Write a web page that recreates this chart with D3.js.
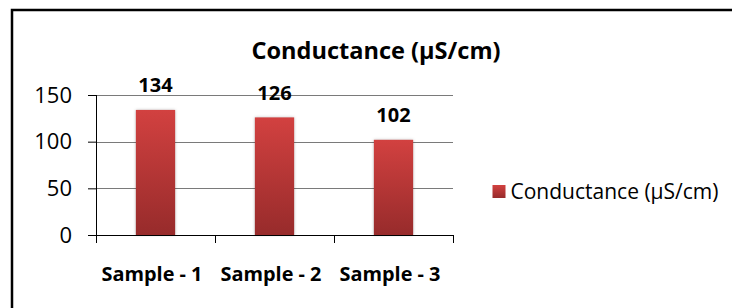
<!DOCTYPE html>
<html>
<head>
<meta charset="utf-8">
<script src="https://cdn.jsdelivr.net/npm/d3@7"></script>
<style>
  body { margin: 0; background: #fff; }
  svg { display: block; }
</style>
</head>
<body>
<svg id="chart"></svg>
<script>
// data
var categories = ["Sample - 1", "Sample - 2", "Sample - 3"];
var values = [134, 126, 102];
var yTicks = [0, 50, 100, 150];
var seriesName = "Conductance (\u00B5S/cm)";
var chartTitle = "Conductance (\u00B5S/cm)";

var size = { width: 732, height: 308 };
var margin = { top: 95, right: 279, bottom: 73, left: 96 };
var width = size.width - margin.left - margin.right;
var height = size.height - margin.top - margin.bottom;

var font = "'Open Sans', sans-serif";

var svg = d3.select("#chart")
  .attr("width", size.width)
  .attr("height", size.height);

var defs = svg.append("defs");
var grad = defs.append("linearGradient")
  .attr("id", "barGrad")
  .attr("x1", 0).attr("y1", 0).attr("x2", 0).attr("y2", 1);
grad.append("stop").attr("offset", "0%").attr("stop-color", "#d24140");
grad.append("stop").attr("offset", "100%").attr("stop-color", "#972b2b");

// outer frame (runs off the right and bottom)
svg.append("path")
  .attr("d", "M12,320 L12,10 L740,10")
  .attr("fill", "none")
  .attr("stroke", "#000")
  .attr("stroke-width", 2.5);

var g = svg.append("g")
  .attr("transform", "translate(" + margin.left + "," + margin.top + ")");

var x = d3.scaleBand()
  .domain(categories)
  .range([0, width])
  .paddingInner(0.67)
  .paddingOuter(0.335);

var y = d3.scaleLinear()
  .domain([0, 150])
  .range([height, 0]);

// gridlines
g.selectAll(".grid")
  .data(yTicks.filter(function(d){ return d > 0; }))
  .enter().append("line")
  .attr("x1", 0).attr("x2", width)
  .attr("y1", function(d){ return Math.round(y(d)) + 0.5; })
  .attr("y2", function(d){ return Math.round(y(d)) + 0.5; })
  .attr("stroke", "#7a7a7a")
  .attr("stroke-width", 1);

// y axis
var yAxis = d3.axisLeft(y).tickValues(yTicks).tickSize(8).tickPadding(16);
var yg = g.append("g").call(yAxis);
yg.select(".domain").attr("stroke", "#000").attr("d", "M0.5," + height + "V0");
yg.selectAll(".tick line").attr("stroke", "#000");
yg.selectAll(".tick text")
  .attr("font-family", font)
  .attr("font-size", 22)
  .attr("fill", "#000");

// bars
g.selectAll(".bar")
  .data(values)
  .enter().append("rect")
  .attr("x", function(d, i){ return x(categories[i]); })
  .attr("y", function(d){ return y(d); })
  .attr("width", x.bandwidth())
  .attr("height", function(d){ return height - y(d); })
  .attr("fill", "url(#barGrad)")
  .style("filter", "drop-shadow(0px 0px 1.5px rgba(0,0,0,0.25))");

// x axis
var xg = g.append("g").attr("transform", "translate(0," + height + ")");
xg.append("line")
  .attr("x1", 0).attr("x2", width)
  .attr("y1", 0.5).attr("y2", 0.5)
  .attr("stroke", "#000");
var bounds = d3.range(categories.length + 1).map(function(i){ return i * width / categories.length; });
xg.selectAll(".xtick")
  .data(bounds)
  .enter().append("line")
  .attr("x1", function(d){ return Math.round(d) + 0.5; })
  .attr("x2", function(d){ return Math.round(d) + 0.5; })
  .attr("y1", 0).attr("y2", 8)
  .attr("stroke", "#000");
xg.selectAll(".xlabel")
  .data(categories)
  .enter().append("text")
  .attr("x", function(d){ return x(d) + x.bandwidth() / 2 - 3.5; })
  .attr("y", 46)
  .attr("text-anchor", "middle")
  .attr("font-family", font)
  .attr("font-size", 20)
  .attr("font-weight", "bold")
  .attr("textLength", 101)
  .attr("lengthAdjust", "spacingAndGlyphs")
  .attr("fill", "#000")
  .text(function(d){ return d; });

// data labels
g.selectAll(".vlabel")
  .data(values)
  .enter().append("text")
  .attr("x", function(d, i){ return x(categories[i]) + x.bandwidth() / 2; })
  .attr("y", function(d){ return y(d) - 17.5; })
  .attr("text-anchor", "middle")
  .attr("font-family", font)
  .attr("font-size", 20)
  .attr("font-weight", "bold")
  .attr("fill", "#000")
  .text(function(d){ return d; });

// title
svg.append("text")
  .attr("x", 376)
  .attr("y", 59)
  .attr("text-anchor", "middle")
  .attr("font-family", font)
  .attr("font-size", 24)
  .attr("font-weight", "bold")
  .attr("textLength", 249)
  .attr("lengthAdjust", "spacingAndGlyphs")
  .attr("fill", "#000")
  .text(chartTitle);

// legend
var lg = svg.append("g").attr("transform", "translate(492.5,185)");
lg.append("rect")
  .attr("width", 13).attr("height", 13)
  .attr("fill", "url(#barGrad)");
lg.append("text")
  .attr("x", 18).attr("y", 14)
  .attr("font-family", font)
  .attr("font-size", 21)
  .attr("textLength", 208)
  .attr("lengthAdjust", "spacingAndGlyphs")
  .attr("fill", "#000")
  .text(seriesName);
</script>
</body>
</html>
